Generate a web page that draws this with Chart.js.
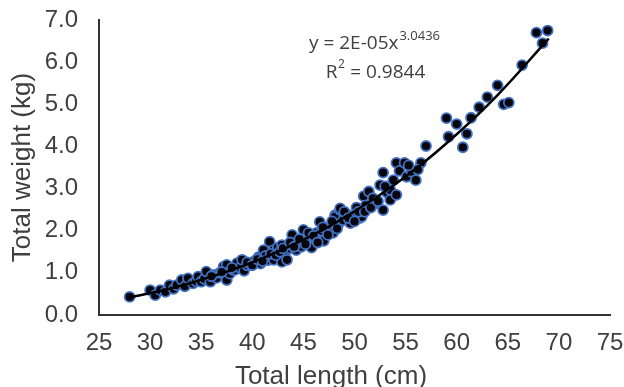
<!DOCTYPE html>
<html>
<head>
<meta charset="utf-8">
<script src="https://cdn.jsdelivr.net/npm/chart.js@4"></script>
<style>
  body { margin: 0; background: #fff; }
  canvas { display: block; }
</style>
</head>
<body>
<canvas id="fishChart" width="624" height="387"></canvas>
<script>
// observed fish: total length (cm) and total weight (kg)
const lengths = [
  28.0, 30.0, 30.5, 31.0, 31.5, 31.9, 32.3, 32.6, 33.1, 33.4,
  33.7, 34.2, 34.5, 34.7, 35.0, 35.3, 35.5, 35.9, 36.2, 36.5,
  36.8, 37.2, 37.5, 37.5, 37.8, 38.1, 38.3, 38.5, 38.8, 39.0,
  39.2, 39.5, 39.9, 40.2, 40.6, 40.8, 41.1, 41.3, 41.5, 41.7,
  42.0, 42.1, 42.1, 42.5, 42.9, 42.9, 43.2, 43.4, 43.6, 43.9,
  43.9, 44.3, 44.5, 44.8, 45.0, 45.3, 45.6, 45.8, 46.1, 46.3,
  46.6, 46.8, 47.0, 47.3, 47.6, 47.9, 48.1, 48.1, 48.4, 48.6,
  48.6, 48.9, 49.2, 49.6, 49.9, 50.2, 50.5, 50.7, 50.9, 51.1,
  51.4, 51.8, 52.1, 52.5, 52.8, 52.8, 53.2, 53.5, 53.5, 53.8,
  54.1, 54.1, 54.4, 54.9, 55.1, 55.6, 56.0, 56.5, 57.0, 59.0,
  59.2, 60.0, 60.6, 61.0, 61.4, 62.2, 63.0, 64.0, 64.6, 65.1,
  66.4, 67.8, 68.4, 68.9,
  36.0, 37.0, 38.0, 39.5, 40.0, 40.5, 41.0, 41.8, 42.3, 42.7,
  43.0, 43.7, 44.1, 44.6, 45.2, 45.5, 46.0, 46.4, 46.9, 47.4,
  47.8, 48.3, 49.0, 49.4, 50.0, 50.4, 51.0, 51.6, 52.3, 53.0,
  55.3, 56.2
];
const weights = [
  0.43, 0.59, 0.47, 0.59, 0.55, 0.71, 0.62, 0.71, 0.83, 0.68,
  0.87, 0.75, 0.80, 0.91, 0.79, 0.86, 1.03, 0.79, 0.95, 0.88,
  1.00, 1.15, 0.83, 1.19, 0.98, 1.07, 1.07, 1.23, 1.12, 1.31,
  1.05, 1.18, 1.19, 1.28, 1.37, 1.22, 1.54, 1.40, 1.30, 1.74,
  1.45, 1.54, 1.31, 1.60, 1.66, 1.26, 1.48, 1.31, 1.58, 1.90,
  1.66, 1.54, 1.75, 1.62, 2.02, 1.74, 1.85, 1.60, 1.82, 1.95,
  2.21, 2.00, 1.76, 2.05, 2.10, 1.95, 2.37, 2.33, 2.15, 2.49,
  2.53, 2.25, 2.40, 2.18, 2.35, 2.55, 2.30, 2.33, 2.82, 2.60,
  2.93, 2.77, 2.65, 3.08, 3.38, 2.49, 2.90, 2.97, 2.73, 3.20,
  3.61, 2.85, 3.42, 3.61, 3.28, 3.40, 3.20, 3.61, 4.01, 4.67,
  4.23, 4.53, 3.98, 4.30, 4.68, 4.93, 5.17, 5.45, 5.00, 5.04,
  5.93, 6.70, 6.45, 6.75,
  0.92, 1.02, 1.12, 1.25, 1.18, 1.32, 1.28, 1.45, 1.42, 1.50,
  1.58, 1.72, 1.62, 1.80, 1.68, 1.95, 1.88, 1.72, 2.08, 1.90,
  2.22, 2.05, 2.45, 2.30, 2.22, 2.45, 2.45, 2.55, 2.70, 3.05,
  3.55, 3.45
];

// power trendline
const trendLengths = [28, 32, 36, 40, 44, 48, 52, 56, 60, 64, 69];
const trendWeights = [0.42, 0.63, 0.91, 1.25, 1.67, 2.17, 2.77, 3.47, 4.29, 5.22, 6.56];

const xTicks = [25, 30, 35, 40, 45, 50, 55, 60, 65, 70, 75];
const yTicks = [0, 1, 2, 3, 4, 5, 6, 7];

const xTitle = "Total length (cm)";
const yTitle = "Total weight (kg)";
const eqText = "y = 2E-05x";
const eqPower = "3.0436";
const r2Value = "0.9844";

const grey = "#404040";
const eqFont = '"Open Sans"';

const extraText = {
  id: "extraText",
  afterDraw(chart) {
    const ctx = chart.ctx;
    ctx.save();
    ctx.fillStyle = grey;
    ctx.textBaseline = "middle";

    // x axis title sits a bit left of the plot centre
    ctx.textAlign = "center";
    ctx.font = '26px "Liberation Sans"';
    ctx.fillText(xTitle, 331, 377);

    ctx.textAlign = "left";
    // first line: y = 2E-05x^3.0436
    ctx.font = "19px " + eqFont;
    const w1 = ctx.measureText(eqText).width;
    ctx.font = "13px " + eqFont;
    const w2 = ctx.measureText(eqPower).width;
    let x = 374 - (w1 + w2) / 2;
    ctx.font = "19px " + eqFont;
    ctx.fillText(eqText, x, 44);
    ctx.font = "13px " + eqFont;
    ctx.fillText(eqPower, x + w1 + 1, 36);

    // second line: R² = 0.9844
    ctx.font = "19px " + eqFont;
    const a = "R";
    const b = " = " + r2Value;
    const wa = ctx.measureText(a).width;
    const wb = ctx.measureText(b).width;
    ctx.font = "12px " + eqFont;
    const ws = ctx.measureText("2").width;
    x = 375 - (wa + ws + wb) / 2;
    ctx.font = "19px " + eqFont;
    ctx.fillText(a, x, 73);
    ctx.font = "12px " + eqFont;
    ctx.fillText("2", x + wa + 0.5, 65);
    ctx.font = "19px " + eqFont;
    ctx.fillText(b, x + wa + ws + 1, 73);
    ctx.restore();
  }
};

const ctx = document.getElementById("fishChart").getContext("2d");
new Chart(ctx, {
  type: "scatter",
  data: {
    datasets: [
      {
        label: "Power trend",
        type: "line",
        data: trendLengths.map((l, i) => ({ x: l, y: trendWeights[i] })),
        borderColor: "#000",
        borderWidth: 2.5,
        pointRadius: 0,
        fill: false,
        tension: 0.4,
        order: 0
      },
      {
        label: "Fish",
        data: lengths.map((l, i) => ({ x: l, y: weights[i] })),
        backgroundColor: "#06060c",
        borderColor: "#4472C4",
        borderWidth: 1.8,
        pointRadius: 5,
        order: 1
      }
    ]
  },
  options: {
    responsive: false,
    animation: false,
    events: [],
    layout: { padding: { left: 0, top: 20, right: 14, bottom: 0 } },
    plugins: { legend: { display: false }, tooltip: { enabled: false } },
    scales: {
      x: {
        type: "linear",
        min: 25,
        max: 75,
        afterBuildTicks: (s) => { s.ticks = xTicks.map((v) => ({ value: v })); },
        grid: { display: false, drawTicks: false },
        border: { display: true, color: "#333", width: 2 },
        ticks: {
          color: grey,
          padding: 14,
          maxRotation: 0,
          font: { family: "Liberation Sans", size: 24 }
        },
        title: { display: false },
        afterFit: (s) => {
          s.height = 72;
          s.paddingLeft = 0;
          s.paddingRight = 0;
        }
      },
      y: {
        type: "linear",
        min: 0,
        max: 7,
        afterBuildTicks: (s) => { s.ticks = yTicks.map((v) => ({ value: v })); },
        grid: { display: false, drawTicks: false },
        border: { display: true, color: "#333", width: 2 },
        ticks: {
          color: grey,
          padding: 21,
          callback: (v) => v.toFixed(1),
          font: { family: "Liberation Sans", size: 24 }
        },
        title: {
          display: true,
          text: yTitle,
          color: grey,
          padding: { top: 10, bottom: 0 },
          font: { family: "Liberation Sans", size: 26, lineHeight: 1 }
        },
        afterFit: (s) => {
          s.width = 99;
          s.paddingTop = 0;
          s.paddingBottom = 0;
        }
      }
    }
  },
  plugins: [extraText]
});
</script>
</body>
</html>
